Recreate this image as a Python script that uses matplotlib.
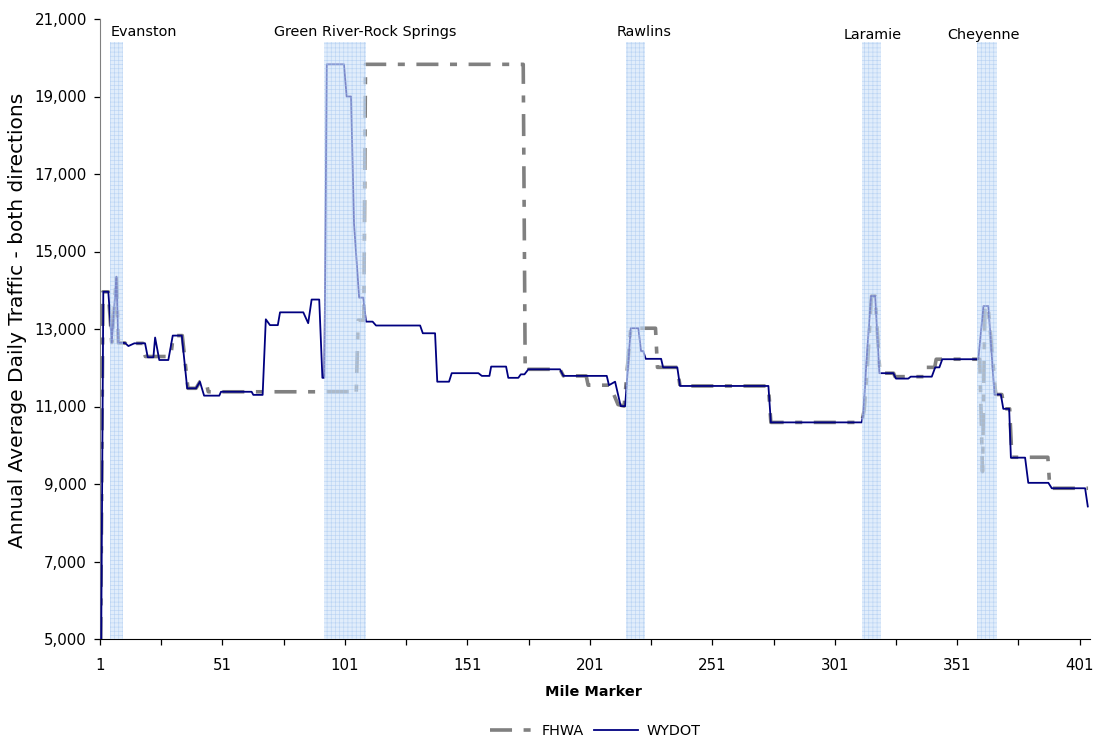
import matplotlib
matplotlib.use("Agg")
import matplotlib.pyplot as plt
from matplotlib.ticker import FixedLocator, FuncFormatter

plt.rcParams["hatch.linewidth"] = 0.45

# ---------------- data ----------------
wydot_mile = [1.5, 2.35, 4.4, 5.8, 7.7, 8.5, 11.2, 12.6, 15.0, 19.4, 20.5, 22.8, 23.5, 25.2,
              28.9, 30.7, 34.4, 36.6, 40.2, 41.8, 43.5, 49.7, 50.4, 62.9, 63.6, 67.4, 68.7,
              70.4, 73.6, 74.5, 84.0, 86.0, 87.4, 90.5, 91.8, 92.6, 93.6, 100.6, 101.7, 103.5,
              104.7, 106.8, 108.5, 109.6, 112.3, 113.7, 131.7, 132.8, 137.8, 138.7, 143.5,
              144.6, 155.5, 156.9, 160.0, 160.7, 166.8, 167.7, 171.8, 172.8, 174.3, 175.9,
              188.8, 190.2, 207.9, 208.8, 211.3, 213.6, 215.4, 217.7, 220.8, 221.9, 222.8,
              223.8, 230.1, 230.9, 236.7, 237.8, 273.9, 274.9, 312.0, 312.7, 313.8, 315.8,
              317.5, 319.2, 324.9, 326.0, 331.0, 332.0, 340.6, 342.0, 343.7, 344.9, 359.6,
              361.7, 363.7, 366.2, 368.8, 369.8, 372.2, 372.9, 378.7, 380.0, 388.2, 389.6,
              403.2, 404.3]
wydot_aadt = [5000, 13960, 13960, 12650, 14350, 12640, 12640, 12560, 12630, 12630, 12270,
              12270, 12780, 12200, 12200, 12830, 12830, 11470, 11470, 11640, 11280, 11280,
              11380, 11380, 11300, 11300, 13250, 13100, 13100, 13430, 13430, 13150, 13760,
              13760, 11740, 11740, 19830, 19830, 19000, 19000, 15730, 13810, 13810, 13190,
              13190, 13090, 13090, 12890, 12890, 11640, 11640, 11860, 11860, 11790, 11790,
              12030, 12030, 11740, 11740, 11830, 11830, 11960, 11960, 11790, 11790, 11550,
              11640, 11010, 11010, 13020, 13020, 12430, 12430, 12230, 12230, 12010, 12010,
              11530, 11530, 10590, 10590, 10830, 12030, 13850, 13850, 11860, 11860, 11720,
              11720, 11770, 11770, 12010, 12010, 12220, 12220, 13590, 13590, 11310, 11310,
              10940, 10940, 9680, 9680, 9030, 9030, 8890, 8890, 8420]

fhwa_mile = [1.3, 2.2, 4.4, 5.8, 7.7, 8.5, 11.2, 12.6, 15.0, 18.6, 19.5, 29.9, 30.9, 34.6,
             36.9, 40.2, 41.8, 44.3, 45.2, 103.0, 104.0, 105.6, 106.4, 108.7, 109.4, 173.8,
             174.6, 175.9, 188.8, 190.2, 199.5, 200.3, 209.2, 212.5, 215.0, 217.7, 227.8,
             228.6, 236.7, 237.8, 273.9, 274.9, 312.0, 313.0, 314.3, 316.0, 317.5, 319.4,
             325.0, 325.6, 338.0, 338.5, 341.8, 342.4, 360.2, 361.3, 362.3, 363.6, 366.7,
             369.2, 370.3, 372.4, 373.3, 388.0, 388.8, 404.4]
fhwa_aadt = [5000, 13960, 13960, 12650, 14350, 12640, 12640, 12560, 12630, 12630, 12290,
             12290, 12830, 12830, 11470, 11470, 11640, 11640, 11380, 11380, 11310, 11310,
             13230, 13230, 19830, 19830, 11900, 11960, 11960, 11790, 11790, 11550, 11550,
             11050, 11010, 13020, 13020, 12010, 12010, 11530, 11530, 10590, 10590, 10900,
             12030, 13850, 13850, 11860, 11860, 11770, 11770, 12010, 12010, 12220, 12220,
             9320, 13590, 13590, 11310, 11310, 10940, 10940, 9690, 9690, 8890, 8890]

cities = ["Evanston", "Green River-Rock Springs", "Rawlins", "Laramie", "Cheyenne"]
city_start = [5.1, 92.5, 215.8, 312.1, 359.1]
city_end = [10.4, 109.6, 223.4, 319.8, 367.1]
city_band_top = 20400

y_ticks = [5000, 7000, 9000, 11000, 13000, 15000, 17000, 19000, 21000]
x_label_ticks = [1, 51, 101, 151, 201, 251, 301, 351, 401]
x_minor_ticks = [26, 76, 126, 176, 226, 276, 326, 376]

# ---------------- figure ----------------
W, H = 1099, 740
fig = plt.figure(figsize=(W / 100, H / 100), dpi=100)
fig.subplots_adjust(left=100 / W, right=1090 / W, bottom=1 - 639 / H, top=1 - 19 / H)
ax = fig.add_subplot(111)

ax.plot(fhwa_mile, fhwa_aadt, color="#808080", lw=2.6, dashes=(6.1, 3.2, 1.95, 3.2),
        solid_capstyle="butt", zorder=2, label="FHWA")
ax.plot(wydot_mile, wydot_aadt, color="#000080", lw=1.3, zorder=3, label="WYDOT")

ymin, ymax = y_ticks[0], y_ticks[-1]
for s, e in zip(city_start, city_end):
    ax.axvspan(s, e, ymin=0, ymax=(city_band_top - ymin) / (ymax - ymin),
               facecolor="#cde1f9", edgecolor="#a2c4ef", hatch="++++", linewidth=0,
               alpha=0.6, zorder=4)

label_pos = [(18.8, 20665), (109.2, 20665), (223.1, 20665), (316.6, 20590), (361.9, 20590)]
for name, (lx, ly) in zip(cities, label_pos):
    ax.text(lx, ly, name, ha="center", va="center", fontsize=10.4, color="black", zorder=5)

ax.set_xlim(1, 405.2)
ax.set_ylim(ymin, ymax)
ax.yaxis.set_major_locator(FixedLocator(y_ticks))
ax.yaxis.set_major_formatter(FuncFormatter(lambda v, p: f"{int(v):,}"))
ax.xaxis.set_major_locator(FixedLocator(x_label_ticks))
ax.xaxis.set_minor_locator(FixedLocator(x_minor_ticks))
ax.xaxis.set_major_formatter(FuncFormatter(lambda v, p: f"{int(round(v))}"))

for sp in ["top", "right"]:
    ax.spines[sp].set_visible(False)
ax.spines["left"].set_color("#808080")
ax.spines["bottom"].set_color("#000000")
ax.tick_params(axis="both", which="both", direction="out", length=4.5, width=0.9,
               color="#000000", labelsize=10.8)
ax.tick_params(axis="y", pad=5)
ax.tick_params(axis="x", which="both", pad=9)

ax.set_ylabel("Annual Average Daily Traffic - both directions", fontsize=14.5, va="center")
ax.yaxis.set_label_coords((17.5 - 100) / 990, (639 - 320) / 620)
ax.set_xlabel("Mile Marker", fontsize=10.4, fontweight="bold", va="center")
ax.xaxis.set_label_coords(0.498, (639 - 692.5) / 620)

fig.legend(loc="center", bbox_to_anchor=(595 / W, 1 - 731 / H), ncol=2, frameon=False,
           fontsize=10.4, handlelength=3.0, handletextpad=0.6, columnspacing=0.7)

fig.savefig("out.png", dpi=100)
